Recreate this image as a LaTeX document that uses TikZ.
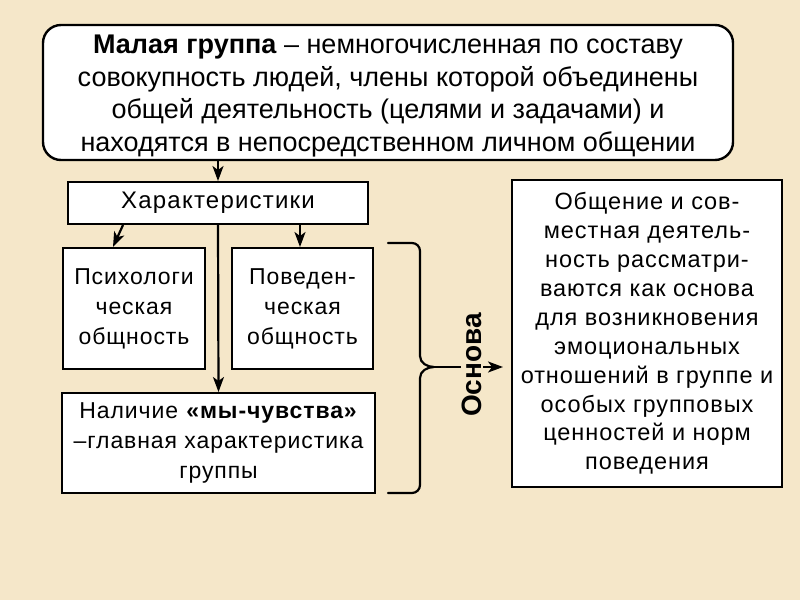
\documentclass[tikz,border=0pt]{standalone}
\usepackage{fontspec}
\setmainfont{Liberation Sans}
\usetikzlibrary{arrows.meta}
\definecolor{bg}{RGB}{245,231,201}
\begin{document}
\begin{tikzpicture}[x=1pt,y=-1pt,
  box/.style={draw=black, line width=2pt, fill=white, align=center, inner sep=0pt},
  arr/.style={line width=2.2pt, -{Stealth[length=15pt,width=11pt,inset=4pt]}},
  topfont/.style={font=\fontsize{27}{32.5}\selectfont},
  charfont/.style={font=\fontsize{24}{30}\selectfont\addfontfeature{LetterSpace=5}},
  lowfont/.style={font=\fontsize{23}{30}\selectfont\addfontfeature{LetterSpace=4}},
  rfont/.style={font=\fontsize{23.5}{28.9}\selectfont\addfontfeature{LetterSpace=4}}
]
\fill[bg] (0,0) rectangle (800,600);
\useasboundingbox (0,0) rectangle (800,600);

\node[box, line width=2.4pt, rounded corners=18pt, minimum width=690pt, minimum height=135pt] (top) at (388,92.5) {};
\node[align=center, inner sep=0pt, topfont] (toptext) at (388,96)
  {\textbf{Малая группа} – немногочисленная по составу\\
   совокупность людей, члены которой объединены\\
   общей деятельность (целями и задачами) и\\
   находятся в непосредственном личном общении};

\node[box, minimum width=300pt, minimum height=42pt, charfont] (char) at (218,203) {Характеристики};

\node[box, minimum width=142pt, minimum height=121pt, lowfont] (psy) at (134,308.5)
  {Психологи\\ ческая\\ общность};
\node[box, minimum width=141pt, minimum height=121pt, lowfont] (beh) at (302.5,308.5)
  {Поведен-\\ ческая\\ общность};
\node[box, minimum width=313pt, minimum height=100pt, lowfont] (we) at (218.5,443)
  {Наличие \textbf{«мы-чувства»}\\ –главная характеристика\\ группы};

\node[box, minimum width=270pt, minimum height=307pt, rfont] (right) at (647,333.5)
  {Общение и сов-\\ местная деятель-\\ ность рассматри-\\ ваются как основа\\
   для возникновения\\ эмоциональных\\ отношений в группе и\\ особых групповых\\
   ценностей и норм\\ поведения};

\draw[arr] (char.north |- top.south) -- (char.north);
\draw[arr] ([xshift=-95pt]char.south) -- ([xshift=-21pt]psy.north);
\draw[arr] ([xshift=82pt]char.south) -- ([xshift=82pt]char.south |- beh.north);
\draw[arr] (char.south) -- (we.north);

% brace
\coordinate (tip) at (434,367);
\draw[line width=2.2pt, line cap=round, line join=round]
  (388,243) -- (412,243) to[out=0,in=90] (420,251) -- (420,356)
  to[out=-90,in=180] (tip) to[out=180,in=90] (420,378) -- (420,485)
  to[out=-90,in=0] (412,493) -- (388,493);
\draw[arr, shorten >=8pt] (tip) -- (right.west |- tip);
\node[fill=bg, inner sep=1pt, rotate=90, font=\fontsize{28}{30}\selectfont\bfseries] (osn) at (472,365) {Основа};
\end{tikzpicture}
\end{document}
